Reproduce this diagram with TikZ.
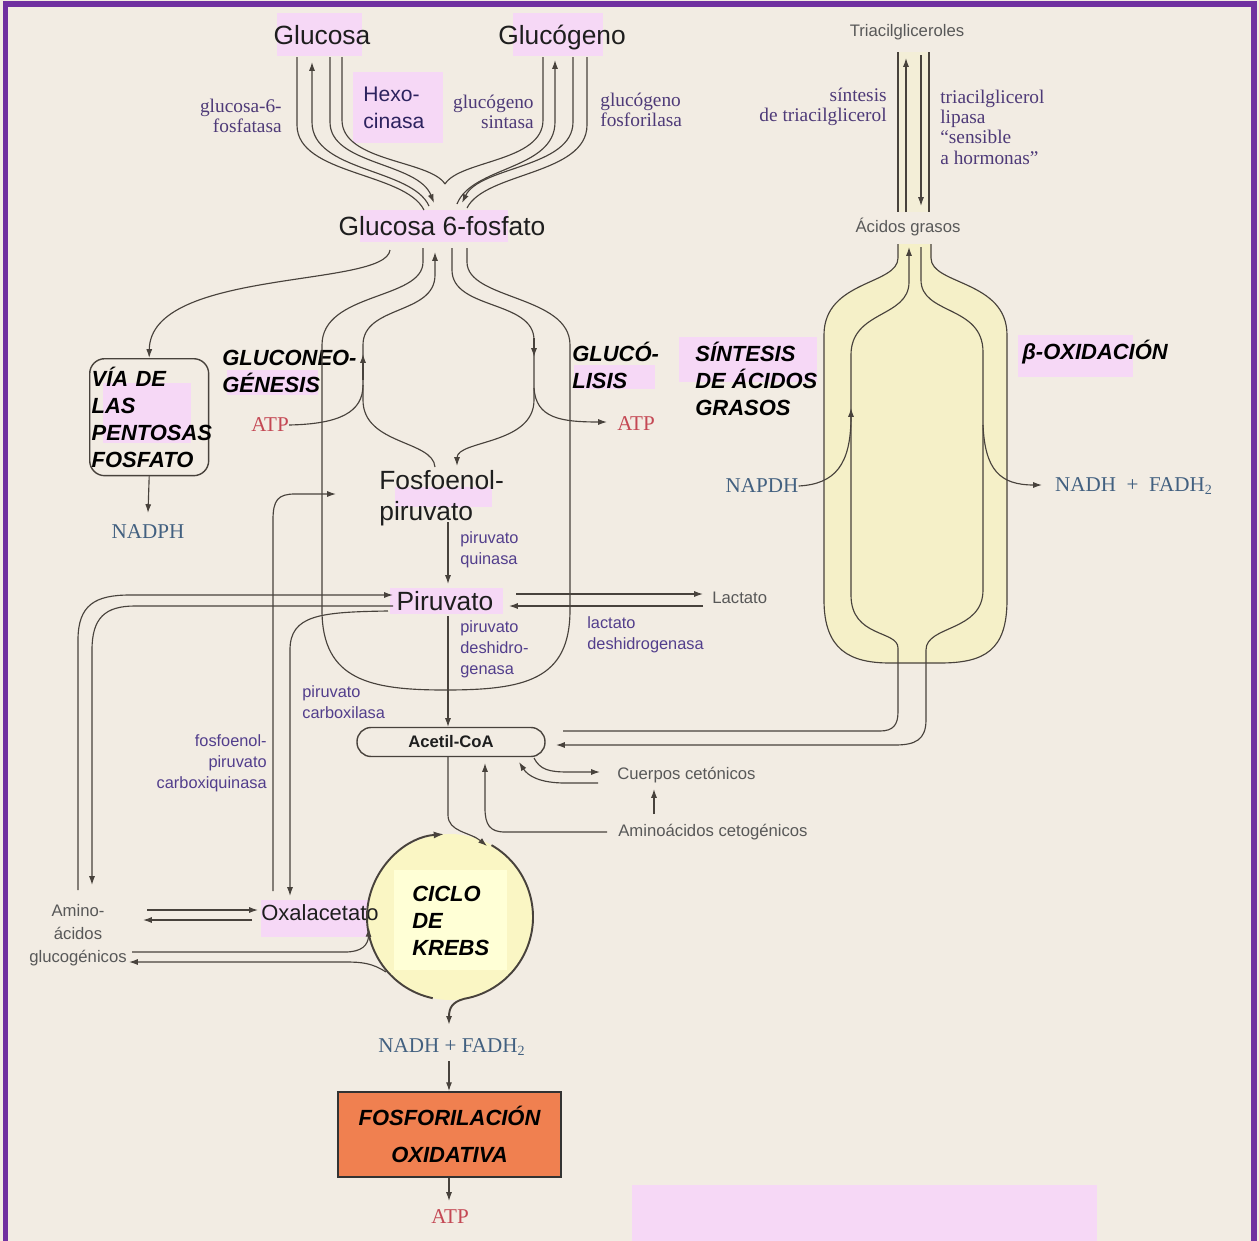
\documentclass[tikz,border=0pt]{standalone}
\usepackage{fontspec}
\setmainfont{Liberation Serif}
\setsansfont{Liberation Sans}
\usepackage{xcolor}
\usetikzlibrary{arrows.meta, positioning}

\definecolor{fondo}{RGB}{242,236,227}
\definecolor{marco}{RGB}{112,48,160}
\definecolor{rosa}{RGB}{246,216,246}
\definecolor{linea}{RGB}{72,66,60}
\definecolor{enzima}{RGB}{78,58,120}
\definecolor{enzimasf}{RGB}{82,62,140}
\definecolor{gris}{RGB}{88,88,88}
\definecolor{rojoatp}{RGB}{196,72,84}
\definecolor{azulnad}{RGB}{66,96,128}
\definecolor{amarillo}{RGB}{245,240,200}
\definecolor{amarillok}{RGB}{250,246,196}
\definecolor{amarillot}{RGB}{255,255,214}
\definecolor{naranja}{RGB}{240,128,80}
\definecolor{tinta}{RGB}{30,30,30}
\definecolor{hexo}{RGB}{45,35,95}

\begin{document}
\begin{tikzpicture}[x=0.02cm, y=-0.02cm,
    metab/.style={font=\sffamily\fontsize{15}{17.6}\selectfont, text=tinta, inner sep=0pt, align=left},
    ruta/.style={font=\sffamily\bfseries\itshape\fontsize{12.5}{15.3}\selectfont, text=black, inner sep=0pt, align=left},
    enz/.style={font=\fontsize{11}{11.6}\selectfont, text=enzima, inner sep=0pt},
    enzsf/.style={font=\sffamily\fontsize{9.3}{12}\selectfont, text=enzimasf, inner sep=0pt, align=left},
    menor/.style={font=\sffamily\fontsize{9.5}{13}\selectfont, text=gris, inner sep=0pt},
    atp/.style={font=\fontsize{12}{14}\selectfont, text=rojoatp, inner sep=0pt},
    nad/.style={font=\fontsize{12}{14}\selectfont, text=azulnad, inner sep=0pt},
    tubo/.style={draw=linea, line width=0.65pt},
    flecha/.style={tubo, -{Latex[length=5pt,width=3.4pt]}},
    resalte/.style={fill=rosa},
    ciclo/.style={draw=linea, line width=1.1pt},
    capsula/.style={draw=linea, line width=0.8pt, rounded corners=8pt, minimum width=3.76cm, minimum height=0.58cm, font=\sffamily\bfseries\fontsize{9.5}{11}\selectfont, text=tinta},
    caja/.style={draw=linea, line width=0.8pt, rounded corners=0.3cm, minimum width=2.38cm, minimum height=2.34cm, inner sep=1pt, text width=2.3cm},
    fosfbox/.style={draw=black!80, line width=1pt, fill=naranja, minimum width=4.46cm, minimum height=1.7cm, align=center, font=\sffamily\bfseries\itshape\fontsize{12.5}{21.5}\selectfont}
  ]
\useasboundingbox (0,0) rectangle (1259,1241);
\clip (0,0) rectangle (1259,1241);
\fill[fondo] (0,0) rectangle (1259,1241);
\draw[marco, line width=0.12cm] (5.5,4) rectangle (1254,1262);

% resaltes
\fill[resalte] (277,13) rectangle (362,56);
\fill[resalte] (513,13) rectangle (603,56);
\fill[resalte] (353,72) rectangle (443,143);
\fill[resalte] (360,210) rectangle (508,242);
\fill[resalte] (103,383) rectangle (191,443);
\fill[resalte] (227,370) rectangle (318,395);
\fill[resalte] (574,365) rectangle (655,389);
\fill[resalte] (679,337) rectangle (817,382);
\fill[resalte] (1018,335) rectangle (1133,377);
\fill[resalte] (395,487) rectangle (492,507);
\fill[resalte] (390,588) rectangle (503,614);
\fill[resalte] (261,900) rectangle (368,937);
\fill[resalte] (632,1185) rectangle (1097,1245);

% acidos grasos
\fill[amarillo!45!fondo] (898,52) rectangle (929,212);
\filldraw[tubo, fill=amarillo] (898,244) -- (898,258) .. controls (898,285) and (824,280) .. (824,335) -- (824,600) .. controls (824,650) and (850,663) .. (890,663) -- (940,663) .. controls (985,663) and (1007,650) .. (1007,600) -- (1007,335) .. controls (1007,280) and (931,285) .. (931,258) -- (931,244);

% ciclo de Krebs
\fill[amarillok] (450,917) circle[radius=83];
\fill[amarillot] (394,870) rectangle (507,970);

\node[metab, anchor=base] (gluc) at (322,44) {Glucosa};
\node[metab, anchor=base] (glucg) at (562,44) {Glucógeno};
\node[metab, font=\sffamily\fontsize{12}{15.3}\selectfont, text=hexo, anchor=west] (hexo) at (363,108) {Hexo-\\cinasa};
\node[enz, align=right, anchor=east] (g6pasa) at (282,116) {glucosa-6-\\fosfatasa};
\node[enz, align=right, anchor=east] (gsint) at (534,112) {glucógeno\\sintasa};
\node[enz, align=left, anchor=west] (gfosf) at (600,110) {glucógeno\\fosforilasa};
\node[metab, anchor=base] (g6p) at (442,235) {Glucosa 6-fosfato};

\node[menor] (triac) at (907,32) {Triacilgliceroles};
\node[enz, align=right, anchor=east] (sintri) at (887,107) {síntesis\\de triacilglicerol};
\node[enz, align=left, anchor=west] (lipasa) at (940,127) {triacilglicerol\\lipasa\\``sensible\\a hormonas''};
\node[menor] (acgr) at (908,227) {Ácidos grasos};

\node[caja, anchor=north west, ruta] (vpp) at (89,358) {VÍA DE\\LAS\\PENTOSAS\\FOSFATO};
\node[nad] (nadph) at (148,532) {NADPH};
\node[ruta, anchor=west] (gng) at (222,371) {GLUCONEO-\\GÉNESIS};
\node[ruta, anchor=west] (glc) at (572,365) {GLUCÓ-\\LISIS};
\node[ruta, anchor=west] (sag) at (695,379) {SÍNTESIS\\DE ÁCIDOS\\GRASOS};
\node[ruta, anchor=west] (box) at (1022,352) {β-OXIDACIÓN};
\node[atp] (atpl) at (270,425) {ATP};
\node[atp] (atpr) at (636,424) {ATP};
\node[nad] (napdh) at (762,486) {NAPDH};
\node[nad] (nadhr) at (1134,486) {NADH\ \ +\ \ FADH\textsubscript{2}};

\node[metab, anchor=west] (pep) at (379,498) {Fosfoenol-\\piruvato};
\node[enzsf, anchor=west] (pq) at (460,550) {piruvato\\quinasa};
\node[metab] (pir) at (445,601) {Piruvato};
\node[menor, anchor=west] (lact) at (712,598) {Lactato};
\node[enzsf, anchor=west] (ldh) at (587,635) {lactato\\deshidrogenasa};
\node[enzsf, anchor=west] (pdh) at (460,649) {piruvato\\deshidro-\\genasa};
\node[enzsf, anchor=west] (pc) at (302,702) {piruvato\\carboxilasa};
\node[enzsf, anchor=east, align=right] (pepck) at (267,763) {fosfoenol-\\piruvato\\carboxiquinasa};
\node[capsula] (acoa) at (451,742) {Acetil-CoA};
\node[menor, anchor=west] (cc) at (617,775) {Cuerpos cetónicos};
\node[menor, anchor=west] (aac) at (618,832) {Aminoácidos cetogénicos};
\node[metab, font=\sffamily\fontsize{12.5}{15}\selectfont] (oxa) at (320,913) {Oxalacetato};
\node[menor, align=center] (aag) at (78,935) {Amino-\\ácidos\\glucogénicos};
\node[ruta, anchor=west] (krebs) at (412,921) {CICLO\\DE\\KREBS};
\node[nad] (nadhb) at (452,1047) {NADH + FADH\textsubscript{2}};
\node[fosfbox] (fosf) at (449.5,1134.5) {FOSFORILACIÓN\\OXIDATIVA};
\node[atp] (atpb) at (450,1217) {ATP};

% glucosa / glucogeno
\draw[tubo] (297,57) -- (297,125) .. controls (297,175) and (405,172) .. (424,210);
\draw[flecha] (429,206) .. controls (412,168) and (312,172) .. (312,122) -- (312,62);
\draw[flecha] (330,57) -- (330,122) .. controls (330,165) and (418,162) .. (434,203);
\draw[tubo] (342,57) -- (342,120) .. controls (342,162) and (430,160) .. (445,184);
\draw[tubo] (543,57) -- (543,120) .. controls (543,162) and (460,160) .. (445,184);
\draw[flecha] (457,204) .. controls (472,166) and (555,170) .. (555,122) -- (555,60);
\draw[flecha] (573,57) -- (573,122) .. controls (573,168) and (480,166) .. (462,203);
\draw[tubo] (587,57) -- (587,125) .. controls (587,175) and (485,172) .. (467,208);

% triacilgliceroles
\draw[tubo] (898,52) -- (898,212);
\draw[flecha] (906,212) -- (906,58);
\draw[flecha] (921,55) -- (921,206);
\draw[tubo] (929,52) -- (929,212);
\draw[flecha] (563,731) -- (880,731) .. controls (893,731) and (898,725) .. (898,712) -- (898,648) .. controls (898,630) and (851,638) .. (851,595) -- (851,355) .. controls (851,310) and (909,318) .. (909,282) -- (909,247);
\draw[flecha] (921,247) -- (921,280) .. controls (921,315) and (983,305) .. (983,352) -- (983,590) .. controls (983,632) and (926,625) .. (926,650) -- (926,720) .. controls (926,740) and (915,745) .. (895,745) -- (556,745);
\draw[flecha] (napdh.east) .. controls (835,484) and (851,465) .. (851,408);
\draw[flecha] (983,425) .. controls (985,470) and (1000,485) .. (1042,485);

% glucolisis / gluconeogenesis
\draw[flecha] (390,250) .. controls (386,288) and (150,268) .. (vpp.north);
\draw[tubo] (423,248) -- (423,262) .. controls (423,300) and (322,292) .. (322,345) -- (322,610) .. controls (322,680) and (370,690) .. (445,690) .. controls (525,690) and (570,680) .. (570,610) -- (570,345) .. controls (570,295) and (467,300) .. (467,262) -- (467,248);
\draw[flecha] (435,467) .. controls (433,440) and (363,445) .. (363,400) -- (363,345) .. controls (363,305) and (435,315) .. (435,275) -- (435,252);
\draw[flecha] (363,380) -- (363,354);
\draw[tubo] (atpl.east) .. controls (340,424) and (363,412) .. (363,385);
\draw[flecha] (452,248) -- (452,270) .. controls (452,310) and (534,300) .. (534,340) -- (534,400) .. controls (534,445) and (457,440) .. (457,466);
\draw[flecha] (534,338) -- (534,357);
\draw[flecha] (534,388) .. controls (536,418) and (560,422) .. (607,422);
\draw[flecha] (vpp.south) -- (148,513);

% piruvato
\draw[flecha] (448,522) -- (448,584);
\draw[flecha] (448,616) -- (448,727);
\draw[flecha] (448,757) -- (448,815) .. controls (448,832) and (470,832) .. (487,846);
\draw[flecha] (388,611) .. controls (320,612) and (290,615) .. (290,650) -- (290,896);
\draw[flecha] (273,891) -- (273,520) .. controls (273,500) and (278,494) .. (295,494) -- (336,494);
\draw[flecha] (78,890) -- (78,640) .. controls (78,605) and (95,595) .. (130,595) -- (393,595);
\draw[flecha] (393,606) -- (135,606) .. controls (105,606) and (92,618) .. (92,650) -- (92,885);
\draw[flecha] (516,594) -- (703,594);
\draw[flecha] (703,606) -- (509,606);

% acetil-CoA
\draw[flecha] (534,758) .. controls (540,770) and (550,772) .. (568,772) -- (600,772);
\draw[flecha] (598,783) -- (565,783) .. controls (540,783) and (528,776) .. (519,762);
\draw[flecha] (654,814) -- (654,789);
\draw[flecha] (607,832) -- (505,832) .. controls (490,832) and (485,825) .. (485,808) -- (485,763);

% oxalacetato / aminoacidos
\draw[flecha] (147,910) -- (258,910);
\draw[flecha] (252,920) -- (143,920);
\draw[flecha] (132,952) -- (345,952) .. controls (362,952) and (368,945) .. (369,928);
\draw[flecha] (386,972) .. controls (372,963) and (362,962) .. (345,962) -- (129,962);

% Krebs
\draw[ciclo, -{Latex[length=6pt,width=4pt]}] ([shift={(102:83)}]450,917) arc[start angle=102, end angle=266, radius=83];
\draw[ciclo, -{Latex[length=5pt,width=3.4pt]}] ([shift={(300:83)}]450,917) arc[start angle=300, end angle=440, radius=83] .. controls (452,1002) and (449,1008) .. (449,1025);

\draw[flecha] (449,1061) -- (fosf.north -| 449,0);
\draw[flecha] (fosf.south -| 449,0) -- (449,1201);
\end{tikzpicture}
\end{document}
